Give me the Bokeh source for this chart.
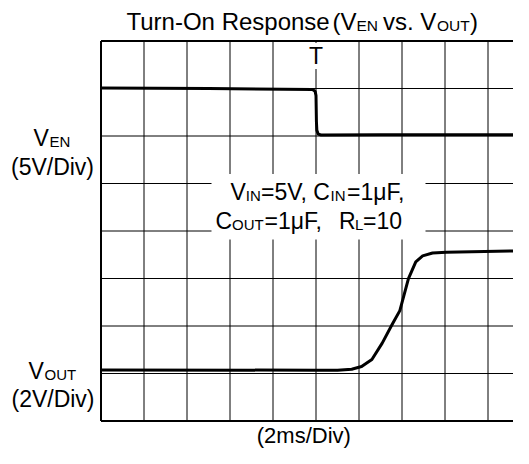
from bokeh.plotting import figure
from bokeh.models import Range1d, Label, BoxAnnotation
from bokeh.embed import file_html
from bokeh.resources import INLINE

# ---- data (time in ms, 2 ms/div; traces in screen divisions, 8 div tall) ----
ven_t_ms = [0.0, 5.0, 9.84, 9.96, 10.0, 10.02, 10.04, 10.1, 10.24, 13.0, 19.92]
ven_div = [7.01, 7.0, 6.98, 6.94, 6.85, 6.3, 6.12, 6.04, 6.02, 6.025, 6.025]

vout_t_ms = [0.0, 10.1, 11.0, 11.66, 12.12, 12.6, 13.08, 13.54, 13.9, 14.3,
             14.64, 14.96, 15.42, 16.06, 19.92]
vout_div = [1.076, 1.069, 1.069, 1.09, 1.146, 1.296, 1.639, 2.03, 2.324, 2.996,
            3.352, 3.476, 3.537, 3.552, 3.585]

ms_per_div = 2
x_divs = 10
y_divs = 8
x_grid_ms = [2, 4, 6, 8, 10, 12, 14, 16, 18]
y_grid_div = [1, 2, 3, 4, 5, 6, 7]
trigger_ms = 10

FONT = "Liberation Sans"
MAIN = "23px"
SUB = "15px"

# screen geometry of the scope graticule
W, H = 513, 448
GX0 = 100.5          # left edge of graticule (px)
GY1 = 420.5          # bottom edge of graticule (px)
PX_PER_DIV_X = 43.0
PX_PER_DIV_Y = 47.5
PX_PER_MS = PX_PER_DIV_X / ms_per_div
LABEL_SHIFT = 8      # compensates the label baseline placement


def dx(X):
    return (X - GX0) / PX_PER_MS


def dy(Y):
    return (GY1 - Y) / PX_PER_DIV_Y


p = figure(width=W, height=H, output_backend="svg", toolbar_location=None,
           x_range=Range1d(dx(0), dx(W)), y_range=Range1d(dy(H), dy(0)),
           x_axis_location=None, y_axis_location=None, min_border=0, title=None)
p.outline_line_color = None
p.background_fill_color = "white"
p.border_fill_color = "white"
p.xgrid.visible = False
p.ygrid.visible = False

x_end = x_divs * ms_per_div

# graticule
p.segment(x0=x_grid_ms, y0=[0] * len(x_grid_ms), x1=x_grid_ms, y1=[y_divs] * len(x_grid_ms),
          line_color="black", line_width=1)
p.segment(x0=[0] * len(y_grid_div), y0=y_grid_div, x1=[x_end] * len(y_grid_div), y1=y_grid_div,
          line_color="black", line_width=1)
# border (left, top, bottom)
p.segment(x0=[0, 0, 0], y0=[0, y_divs, 0], x1=[0, x_end, x_end], y1=[y_divs, y_divs, 0],
          line_color="black", line_width=2)

# traces
p.line(ven_t_ms, ven_div, line_width=3, line_color="black", line_join="round")
p.line(vout_t_ms, vout_div, line_width=3, line_color="black", line_join="round")

# white panel behind the conditions text
p.add_layout(BoxAnnotation(left=dx(211), right=dx(425), top=dy(173.6), bottom=dy(239.1),
                           fill_color="white", fill_alpha=1, line_color=None))


def txt(X, Y, s, size=MAIN, align="left", bg=None):
    kw = {}
    if bg:
        kw["background_fill_color"] = bg
    p.add_layout(Label(x=dx(X), y=dy(Y - LABEL_SHIFT), text=s, text_font=FONT,
                       text_font_size=size, text_align=align, text_baseline="alphabetic",
                       text_color="black", **kw))


# title
txt(126, 29, "Turn-On Response", "24px")
txt(332, 29, "(V", "24px")
txt(356, 33, "EN", "15.5px")
txt(382.5, 29, "vs. V", "24px")
txt(436.5, 33, "OUT", "15.5px")
txt(469.5, 29, ")", "24px")

# trigger marker
txt(GX0 + trigger_ms * PX_PER_MS, 63.5, "T", align="center", bg="white")

# left channel labels
txt(33, 145.3, "V")
txt(49, 149.2, "EN", SUB)
txt(52, 174.1, "(5V/Div)", align="center")
txt(28, 378.1, "V")
txt(44, 381.8, "OUT", SUB)
txt(52.5, 406.1, "(2V/Div)", align="center")

# conditions text
txt(230, 199.0, "V")
txt(245.3, 202.5, "IN", SUB)
txt(260.5, 199.0, "=5V, C")
txt(330, 202.5, "IN", SUB)
txt(346.5, 199.0, "=1\u03bcF,")
txt(215, 228.4, "C")
txt(231.6, 231.9, "OUT", SUB)
txt(264, 228.4, "=1\u03bcF,")
txt(338.5, 228.4, "R")
txt(354.5, 231.9, "L", SUB)
txt(362.5, 228.4, "=10")

# bottom label
txt(303.3, 443.3, "(2ms/Div)", "22px", align="center")

open("out.html", "w").write(file_html(p, INLINE))
